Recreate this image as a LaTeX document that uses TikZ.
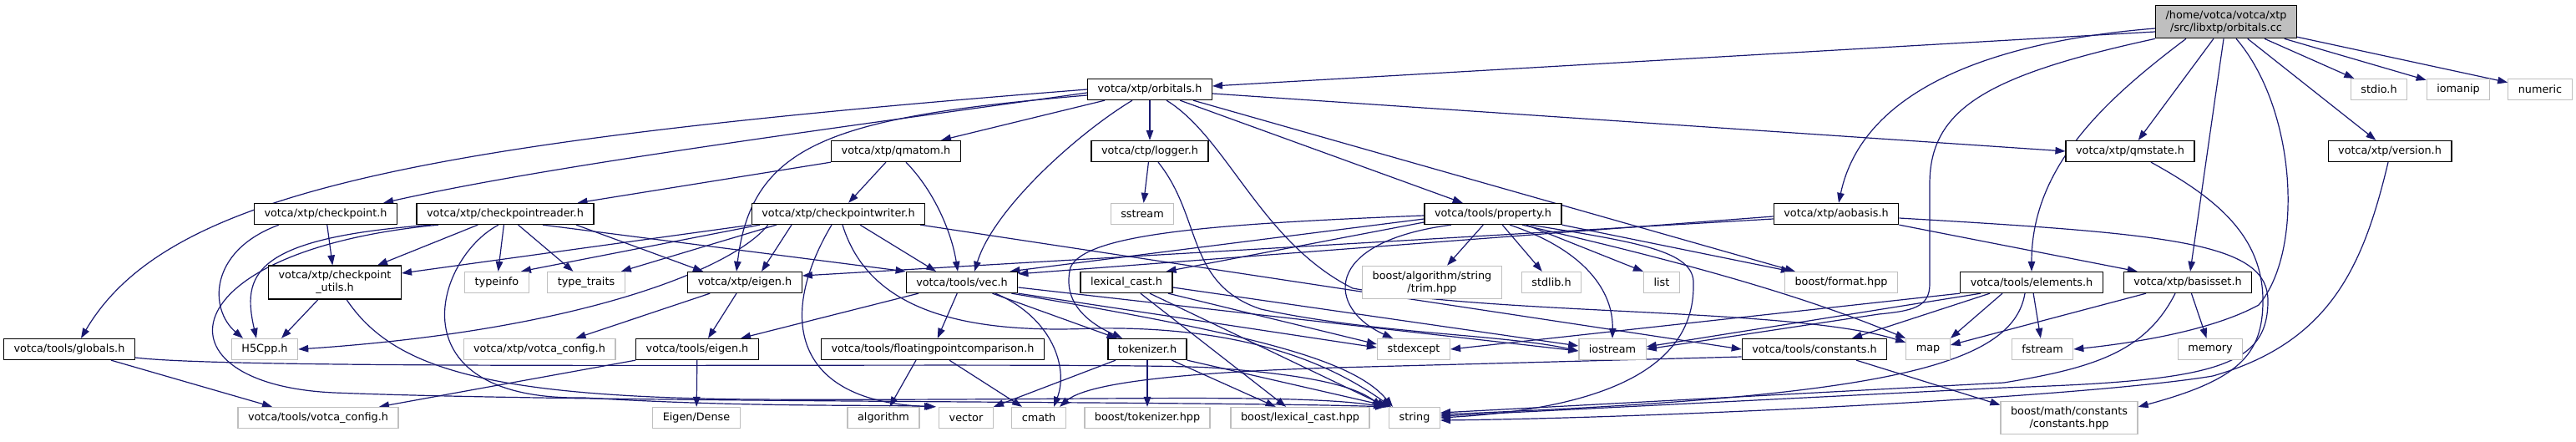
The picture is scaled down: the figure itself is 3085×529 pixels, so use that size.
\documentclass[tikz,border=0pt]{standalone}
\usepackage{fontspec}
\setmainfont{DejaVu Sans}
\usepackage{tikz}
\usetikzlibrary{arrows.meta,backgrounds}

\begin{document}
\begin{tikzpicture}[x=1bp,y=-1bp,
  file/.style={draw=black, line width=1.3bp, fill=white,
    font=\fontsize{12.8bp}{15bp}\selectfont,
    inner xsep=12bp, inner ysep=6bp, minimum height=25bp, align=center},
  sysfile/.style={file, draw=colSys},
  mainfile/.style={file, fill=colMain},
  dep/.style={draw=colEdge, line width=1.2bp, -{Triangle[length=12bp,width=8.5bp]}}]

% colori
\definecolor{colEdge}{HTML}{191970}
\definecolor{colSys}{HTML}{BFBFBF}
\definecolor{colMain}{HTML}{BFBFBF}

\useasboundingbox (0,0) rectangle (3085,529);

% livello 0
\node[mainfile] (root) at (2666,26) {/home/votca/votca/xtp\\/src/libxtp/orbitals.cc};

% livello 1
\node[file] (orbitals) at (1377,107) {votca/xtp/orbitals.h};
\node[sysfile] (stdio) at (2849,107) {stdio.h};
\node[sysfile] (iomanip) at (2944,107) {iomanip};
\node[sysfile] (numeric) at (3042,107) {numeric};

% livello 2
\node[file] (qmatom) at (1073,181) {votca/xtp/qmatom.h};
\node[file] (logger) at (1377,181) {votca/ctp/logger.h};
\node[file] (qmstate) at (2551,181) {votca/xtp/qmstate.h};
\node[file] (version) at (2862,181) {votca/xtp/version.h};

% livello 3
\node[file] (checkpoint) at (390,256) {votca/xtp/checkpoint.h};
\node[file] (reader) at (605,256) {votca/xtp/checkpointreader.h};
\node[file] (writer) at (1004,256) {votca/xtp/checkpointwriter.h};
\node[sysfile] (sstream) at (1368,256) {sstream};
\node[file] (property) at (1788,256) {votca/tools/property.h};
\node[file] (aobasis) at (2199,256) {votca/xtp/aobasis.h};

% livello 4
\node[file] (cputils) at (401,338) {votca/xtp/checkpoint\\\_utils.h};
\node[sysfile] (typeinfo) at (595,338) {typeinfo};
\node[sysfile] (typetraits) at (702,338) {type\_traits};
\node[file] (xeigen) at (892,338) {votca/xtp/eigen.h};
\node[file] (vec) at (1152,338) {votca/tools/vec.h};
\node[file] (lexcast) at (1349,338) {lexical\_cast.h};
\node[sysfile] (trim) at (1715,338) {boost/algorithm/string\\/trim.hpp};
\node[sysfile] (stdlib) at (1858,338) {stdlib.h};
\node[sysfile] (list) at (1990,338) {list};
\node[sysfile] (bformat) at (2205,338) {boost/format.hpp};
\node[file] (elements) at (2433,338) {votca/tools/elements.h};
\node[file] (basisset) at (2620,338) {votca/xtp/basisset.h};

% livello 5
\node[file] (globals) at (83,418) {votca/tools/globals.h};
\node[sysfile] (h5cpp) at (317,418) {H5Cpp.h};
\node[sysfile] (xconfig) at (646,418) {votca/xtp/votca\_config.h};
\node[file] (teigen) at (835,418) {votca/tools/eigen.h};
\node[file] (fpc) at (1117,418) {votca/tools/floatingpointcomparison.h};
\node[file] (tokenizer) at (1374,418) {tokenizer.h};
\node[sysfile] (stdexcept) at (1693,418) {stdexcept};
\node[sysfile] (iostream) at (1931,418) {iostream};
\node[file] (constants) at (2173,418) {votca/tools/constants.h};
\node[sysfile] (map) at (2309,418) {map};
\node[sysfile] (fstream) at (2446,418) {fstream};
\node[sysfile] (memory) at (2647,418) {memory};

% livello 6
\node[sysfile] (tconfig) at (381,500) {votca/tools/votca\_config.h};
\node[sysfile] (eigendense) at (834,500) {Eigen/Dense};
\node[sysfile] (algorithm) at (1058,500) {algorithm};
\node[sysfile] (vector) at (1157,500) {vector};
\node[sysfile] (cmath) at (1244,500) {cmath};
\node[sysfile] (btok) at (1374,500) {boost/tokenizer.hpp};
\node[sysfile] (blex) at (1557,500) {boost/lexical\_cast.hpp};
\node[sysfile] (string) at (1694,500) {string};
\node[sysfile] (bmath) at (2478,500) {boost/math/constants\\/constants.hpp};

\begin{scope}[on background layer]
% orbitals.cc
\draw[dep] ([yshift=-12bp]root.west) -- ([yshift=4bp]orbitals.east);
\draw[dep] (root) -- (stdio);
\draw[dep] (root) -- (iomanip);
\draw[dep] (root) -- (numeric);
\draw[dep] (root) -- (qmstate);
\draw[dep] (root) -- (version);
\draw[dep] ([yshift=-8bp]root.west) .. controls (2380,50) and (2230,110) .. ([xshift=3bp]aobasis.north);
\draw[dep] ([xshift=-3bp]root.south) -- ([xshift=3bp]basisset.north);
\draw[dep] ([xshift=-48bp]root.south) .. controls (2520,120) and (2433,200) .. (elements.north);
\draw[dep] (root.south west) .. controls (2380,90) and (2311,130) .. (2311,220) -- (2311,340)
  .. controls (2311,368) and (2290,372) .. (2250,376) -- (iostream.east);
\draw[dep] ([xshift=12bp]root.south) .. controls (2750,130) and (2760,300) .. (2705,365)
  .. controls (2650,395) and (2560,410) .. (fstream.east);

% orbitals.h
\draw[dep] (orbitals.west) .. controls (500,170) and (200,230) .. ([xshift=14bp]globals.north);
\draw[dep] ([yshift=-4bp]orbitals.west) .. controls (950,160) and (650,200) .. ([xshift=-17bp]checkpoint.north east);
\draw[dep] ([yshift=-7bp]orbitals.west) .. controls (1000,140) and (900,170) .. ([xshift=-10bp]xeigen.north);
\draw[dep] (orbitals) -- (qmatom);
\draw[dep] ([xshift=-21bp]orbitals.south) .. controls (1290,160) and (1190,250) .. ([xshift=15bp]vec.north);
\draw[dep] (orbitals) -- (logger);
\draw[dep] ([xshift=20bp]orbitals.south) .. controls (1470,165) and (1510,290) .. (1620,345)
  .. controls (1800,378) and (2150,368) .. ([yshift=-5bp]map.north west);
\draw[dep] (orbitals) -- (property);
\draw[dep] ([xshift=-23bp]orbitals.south east) -- ([xshift=13bp]bformat.north west);
\draw[dep] ([yshift=-5bp]orbitals.east) -- (qmstate.west);

% qmatom.h
\draw[dep] (qmatom.south west) -- ([xshift=-20bp]reader.north east);
\draw[dep] (qmatom) -- (writer);
\draw[dep] ([xshift=12bp]qmatom.south) .. controls (1120,230) and (1140,280) .. ([xshift=-5bp]vec.north);

% logger.h
\draw[dep] (logger) -- (sstream);
\draw[dep] ([xshift=10bp]logger.south) .. controls (1440,260) and (1420,340) .. (1510,370)
  .. controls (1650,400) and (1800,400) .. ([yshift=-2bp]iostream.west);

% checkpoint.h
\draw[dep] (checkpoint) -- (cputils);
\draw[dep] ([xshift=-56bp]checkpoint.south) .. controls (250,300) and (250,370) .. ([xshift=-26bp]h5cpp.north);

% checkpointreader.h
\draw[dep] ([xshift=-89bp]reader.south) .. controls (300,285) and (290,330) .. ([xshift=-10bp]h5cpp.north);
\draw[dep] ([xshift=-80bp]reader.south) .. controls (200,300) and (180,460) .. (400,470)
  .. controls (700,482) and (1450,480) .. ([xshift=-4bp]string.north west);
\draw[dep] (reader) -- (cputils);
\draw[dep] (reader) -- (typeinfo);
\draw[dep] (reader) -- (typetraits);
\draw[dep] ([xshift=-8bp]reader.south) .. controls (520,310) and (470,480) .. (700,476)
  .. controls (900,488) and (1050,484) .. ([xshift=-3bp]vector.north west);
\draw[dep] ([xshift=45bp]reader.south) -- (vec.north west);
\draw[dep] ([xshift=85bp]reader.south) -- ([xshift=-50bp]xeigen.north);

% checkpointwriter.h
\draw[dep] (writer.south west) -- ([yshift=11bp]cputils.east);
\draw[dep] ([xshift=10bp]writer.south west) -- ([xshift=-10bp]typeinfo.north east);
\draw[dep] ([xshift=30bp]writer.south west) -- ([xshift=-5bp]typetraits.north east);
\draw[dep] ([xshift=20bp]writer.south west) .. controls (880,320) and (700,395) .. (h5cpp.east);
\draw[dep] ([xshift=-56bp]writer.south) -- ([xshift=20bp]xeigen.north);
\draw[dep] ([xshift=26bp]writer.south) -- ([xshift=-31bp]vec.north);
\draw[dep] ([xshift=-8bp]writer.south) .. controls (930,380) and (950,480) .. ([xshift=-5bp]vector.north west);
\draw[dep] ([xshift=5bp]writer.south) .. controls (1040,370) and (1150,400) .. (1310,393)
  .. controls (1500,390) and (1600,440) .. ([xshift=3bp]string.north west);
\draw[dep] ([xshift=-6bp]writer.south east) -- (constants.west);

% property.h
\draw[dep] (property) -- (trim);
\draw[dep] (property) -- (stdlib);
\draw[dep] ([xshift=40bp]property.south) -- (list.north west);
\draw[dep] ([xshift=20bp]property.south) .. controls (1900,300) and (1932,350) .. (iostream.north);
\draw[dep] ([xshift=-50bp]property.south) .. controls (1580,290) and (1590,370) .. ([xshift=-25bp]stdexcept.north);
\draw[dep] ([xshift=45bp]property.south) .. controls (1960,290) and (2030,300) .. (2028,340)
  .. controls (2030,450) and (1900,490) .. (string.east);
\draw[dep] ([xshift=35bp]property.south) .. controls (2000,310) and (2150,350) .. (map.north west);
\draw[dep] (property.south east) -- ([xshift=8bp]bformat.north west);
\draw[dep] ([yshift=-6bp]property.west) -- ([xshift=-10bp]vec.north east);
\draw[dep] ([yshift=-10bp]property.west) -- ([xshift=-8bp]lexcast.north east);
\draw[dep] ([yshift=-2bp]property.west) .. controls (1450,268) and (1300,280) .. (1282,320)
  .. controls (1272,360) and (1300,385) .. ([xshift=-30bp]tokenizer.north);

% aobasis.h
\draw[dep] (aobasis.south east) -- ([xshift=17bp]basisset.north west);
\draw[dep] ([yshift=-3bp]aobasis.west) -- ([yshift=-3bp]vec.north east);
\draw[dep] ([yshift=-6bp]aobasis.west) -- ([yshift=8bp]xeigen.east);
\draw[dep] ([yshift=-5bp]aobasis.east) .. controls (2600,280) and (2716,290) .. (2716,360)
  .. controls (2716,440) and (2650,456) .. (2400,464) -- ([yshift=2bp]string.east);

% qmstate.h, version.h
\draw[dep] ([xshift=25bp]qmstate.south) .. controls (2650,235) and (2710,280) .. (2710,360)
  .. controls (2710,425) and (2680,455) .. ([yshift=13bp]bmath.east);
\draw[dep] ([xshift=-2bp]version.south) .. controls (2830,320) and (2790,410) .. (2650,450)
  .. controls (2500,475) and (2000,500) .. ([yshift=-3bp]string.east);

% elements.h
\draw[dep] (elements.south west) -- (stdexcept.east);
\draw[dep] ([xshift=25bp]elements.south west) -- ([yshift=3bp]iostream.east);
\draw[dep] ([xshift=-50bp]elements.south) -- ([xshift=45bp]constants.north);
\draw[dep] ([xshift=-35bp]elements.south) -- (map.north east);
\draw[dep] (elements) -- (fstream);
\draw[dep] ([xshift=-8bp]elements.south) .. controls (2410,440) and (2250,475) .. ([yshift=4bp]string.east);

% basisset.h
\draw[dep] (basisset) -- (memory);
\draw[dep] ([xshift=-50bp]basisset.south) -- ([yshift=5bp]map.east);
\draw[dep] ([xshift=-15bp]basisset.south) .. controls (2570,420) and (2510,440) .. (2400,458)
  -- ([yshift=6bp]string.east);

% constants.h
\draw[dep] ([xshift=50bp]constants.south) -- ([yshift=-5bp]bmath.north west);
\draw[dep] ([yshift=-9bp]constants.west) -- (1600,440) .. controls (1400,446) and (1300,460) .. ([xshift=25bp]cmath.north);

% vec.h
\draw[dep] (vec) -- (teigen);
\draw[dep] (vec) -- (fpc);
\draw[dep] (vec) -- (tokenizer);
\draw[dep] ([xshift=40bp]vec.south) .. controls (1260,380) and (1280,440) .. ([xshift=18bp]cmath.north);
\draw[dep] (vec.south east) -- ([yshift=2bp]stdexcept.west);
\draw[dep] ([yshift=-6bp]vec.east) -- ([yshift=-2bp]iostream.west);
\draw[dep] ([xshift=-8bp]vec.south east) .. controls (1500,400) and (1620,430) .. ([xshift=5bp]string.north west);

% lexical_cast.h, tokenizer.h
\draw[dep] (lexcast) -- (blex);
\draw[dep] ([xshift=50bp]lexcast.south) -- ([yshift=6bp]stdexcept.west);
\draw[dep] ([xshift=28bp]lexcast.south) -- ([xshift=-2bp]string.north west);
\draw[dep] ([yshift=-6bp]lexcast.east) -- ([yshift=4bp]iostream.west);
\draw[dep] (tokenizer) -- (btok);
\draw[dep] (tokenizer) -- (blex);
\draw[dep] ([xshift=-38bp]tokenizer.south) -- (vector.north east);
\draw[dep] (tokenizer.south east) -- ([xshift=2bp]string.north west);

% floatingpointcomparison.h
\draw[dep] ([xshift=-20bp]fpc.south) -- (algorithm);
\draw[dep] ([xshift=20bp]fpc.south) -- ([xshift=-20bp]cmath.north);

% checkpoint_utils.h, globals.h
\draw[dep] ([xshift=-20bp]cputils.south) -- ([xshift=20bp]h5cpp.north);
\draw[dep] ([xshift=14bp]cputils.south) .. controls (470,440) and (580,475) .. (900,478)
  .. controls (1300,480) and (1550,470) .. ([xshift=-6bp]string.north west);
\draw[dep] ([xshift=50bp]globals.south) -- ([xshift=-55bp]tconfig.north);
\draw[dep] ([yshift=-10bp]globals.east) .. controls (300,445) and (1300,432) .. (1450,440)
  .. controls (1560,448) and (1620,460) .. ([xshift=-8bp]string.north west);

% eigen.h
\draw[dep] ([xshift=27bp]xeigen.south west) -- ([xshift=-48bp]xconfig.north east);
\draw[dep] ([xshift=-10bp]xeigen.south) -- ([xshift=13bp]teigen.north);
\draw[dep] (teigen.south west) -- ([xshift=73bp]tconfig.north);
\draw[dep] (teigen) -- (eigendense);
\end{scope}

\end{tikzpicture}
\end{document}
